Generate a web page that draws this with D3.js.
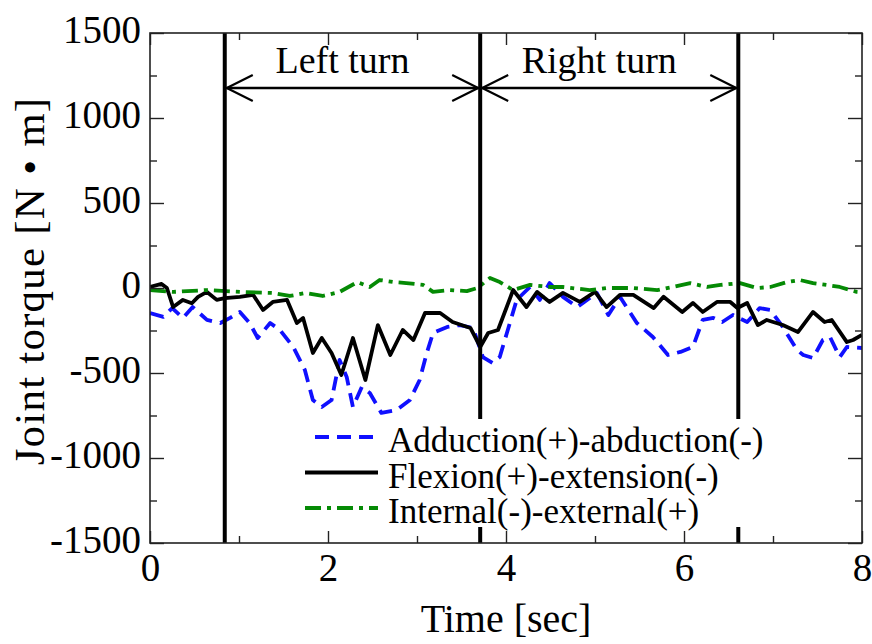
<!DOCTYPE html>
<html>
<head>
<meta charset="utf-8">
<script src="https://cdn.jsdelivr.net/npm/d3@7"></script>
<style>
  html, body { margin: 0; padding: 0; background: #fff; }
  svg { display: block; }
  text { font-family: "Liberation Serif", "Times New Roman", serif; fill: #000; }
</style>
</head>
<body>
<svg id="chart" width="872" height="644"></svg>
<script>
// Hip joint torque during a left turn followed by a right turn
const adductionTime = [0.0, 0.15, 0.25, 0.37, 0.48, 0.64, 0.79, 0.90, 1.01, 1.12, 1.21, 1.35, 1.46, 1.61, 1.74, 1.83, 1.93, 2.04, 2.13, 2.21, 2.28, 2.38, 2.47, 2.60, 2.77, 2.92, 3.03, 3.11, 3.18, 3.34, 3.48, 3.63, 3.74, 3.85, 3.93, 4.01, 4.12, 4.27, 4.38, 4.49, 4.64, 4.80, 5.02, 5.15, 5.28, 5.47, 5.65, 5.82, 5.96, 6.10, 6.21, 6.33, 6.43, 6.55, 6.71, 6.85, 6.97, 7.11, 7.27, 7.34, 7.45, 7.56, 7.64, 7.75, 7.83, 8.0];
const adductionTorque = [-147, -170, -118, -176, -112, -188, -206, -176, -141, -206, -294, -206, -247, -347, -482, -659, -700, -659, -423, -523, -700, -582, -618, -735, -718, -659, -541, -382, -265, -229, -218, -235, -406, -441, -406, -265, -70, 6, -70, 29, -52, -112, -29, -159, -52, -206, -288, -394, -376, -347, -188, -176, -200, -159, -200, -118, -129, -229, -365, -394, -412, -306, -288, -406, -347, -353];

const flexionTime = [0.0, 0.13, 0.19, 0.26, 0.37, 0.47, 0.54, 0.64, 0.75, 0.84, 1.01, 1.16, 1.27, 1.38, 1.54, 1.65, 1.72, 1.83, 1.93, 2.04, 2.15, 2.28, 2.42, 2.56, 2.70, 2.84, 2.96, 3.09, 3.26, 3.40, 3.60, 3.71, 3.80, 3.91, 4.08, 4.23, 4.35, 4.49, 4.64, 4.83, 5.00, 5.13, 5.28, 5.43, 5.66, 5.77, 5.98, 6.10, 6.21, 6.37, 6.52, 6.60, 6.71, 6.83, 6.93, 7.11, 7.28, 7.45, 7.58, 7.66, 7.83, 7.90, 8.0];
const flexionTorque = [6, 24, 0, -112, -70, -90, -52, -23, -70, -60, -52, -41, -129, -82, -70, -206, -176, -382, -294, -382, -512, -294, -541, -218, -394, -247, -306, -147, -147, -200, -235, -347, -265, -247, -12, -112, -23, -82, -29, -82, -23, -112, -41, -41, -118, -52, -141, -88, -141, -82, -82, -118, -88, -218, -188, -218, -259, -141, -200, -188, -318, -306, -276];

const rotationTime = [0.0, 0.26, 0.64, 1.01, 1.38, 1.57, 1.75, 1.94, 2.13, 2.33, 2.47, 2.58, 2.73, 2.88, 3.07, 3.18, 3.37, 3.56, 3.68, 3.82, 3.93, 4.08, 4.27, 4.49, 4.64, 4.94, 5.13, 5.43, 5.70, 5.87, 6.07, 6.26, 6.41, 6.63, 6.82, 6.97, 7.16, 7.30, 7.45, 7.60, 7.75, 7.94, 8.0];
const rotationTorque = [-12, -23, -12, -23, -29, -47, -29, -47, -23, 35, 6, 47, 35, 29, 18, -23, -12, -18, 0, 59, 35, -12, 18, 6, 6, -12, 0, 0, -12, 6, 29, 6, 18, 29, 0, 6, 35, 47, 29, 18, 6, -23, -25];

const seriesNames = ["Adduction(+)-abduction(-)", "Flexion(+)-extension(-)", "Internal(-)-external(+)"];
const phaseBounds = [0.84, 3.71, 6.61];
const phaseLabels = ["Left turn", "Right turn"];

const xMajorTicks = [0, 2, 4, 6, 8];
const xMinorTicks = [1, 3, 5, 7];
const yMajorTicks = [-1500, -1000, -500, 0, 500, 1000, 1500];
const yMinorTicks = [-1250, -750, -250, 250, 750, 1250];

const xTitle = "Time [sec]";
const yTitle = "Joint torque [N \u2022 m]";

// ---- layout ----
const plotL = 150, plotR = 862, plotT = 33, plotB = 543;
const serif = "'Liberation Serif', 'Times New Roman', serif";
const svg = d3.select("#chart");

const x = d3.scaleLinear().domain([0, 8]).range([plotL, plotR]);
const y = d3.scaleLinear().domain([-1500, 1500]).range([plotB, plotT]);

const series = [
  { name: seriesNames[0], t: adductionTime, v: adductionTorque, color: "#1010ff", dash: "14,8" },
  { name: seriesNames[1], t: flexionTime, v: flexionTorque, color: "#000000", dash: null },
  { name: seriesNames[2], t: rotationTime, v: rotationTorque, color: "#058a05", dash: "16,6,4,6" }
];

svg.append("defs").append("clipPath").attr("id", "plotClip")
  .append("rect").attr("x", plotL).attr("y", plotT).attr("width", plotR - plotL).attr("height", plotB - plotT);

// ---- data lines ----
const line = d3.line().x(d => x(d[0])).y(d => y(d[1]));
const plot = svg.append("g").attr("clip-path", "url(#plotClip)");
series.forEach(s => {
  const pts = s.t.map((t, i) => [t, s.v[i]]);
  plot.append("path")
    .datum(pts)
    .attr("d", line)
    .attr("fill", "none")
    .attr("stroke", s.color)
    .attr("stroke-width", 3.8)
    .attr("stroke-linejoin", "round")
    .attr("stroke-dasharray", s.dash);
});

// ---- phase boundaries ----
svg.append("g").selectAll("line").data(phaseBounds).join("line")
  .attr("x1", d => x(d)).attr("x2", d => x(d))
  .attr("y1", plotT).attr("y2", plotB)
  .attr("stroke", "#000").attr("stroke-width", 4);

// ---- arrows between phase boundaries ----
const arrowY = 88;
const arrows = svg.append("g");
phaseLabels.forEach((label, i) => {
  const x0 = x(phaseBounds[i]) + 2, x1 = x(phaseBounds[i + 1]) - 2;
  arrows.append("line").attr("x1", x0).attr("x2", x1).attr("y1", arrowY).attr("y2", arrowY)
    .attr("stroke", "#000").attr("stroke-width", 2.6);
  arrows.append("path")
    .attr("d", `M${x0 + 26},${arrowY - 13}L${x0},${arrowY}L${x0 + 26},${arrowY + 13}`)
    .attr("fill", "none").attr("stroke", "#000").attr("stroke-width", 2.2);
  arrows.append("path")
    .attr("d", `M${x1 - 26},${arrowY - 13}L${x1},${arrowY}L${x1 - 26},${arrowY + 13}`)
    .attr("fill", "none").attr("stroke", "#000").attr("stroke-width", 2.2);
  arrows.append("text")
    .attr("x", (x0 + x1) / 2 - 10).attr("y", 73)
    .attr("text-anchor", "middle")
    .attr("font-size", 38)
    .text(label);
});

// ---- legend ----
const legend = svg.append("g");
legend.append("rect").attr("x", 300).attr("y", 419).attr("width", 480).attr("height", 108).attr("fill", "#fff");
series.forEach((s, i) => {
  const ly = 437 + i * 35.5;
  legend.append("line")
    .attr("x1", s.dash === "14,8" ? 315 : 305).attr("x2", 378)
    .attr("y1", ly).attr("y2", ly)
    .attr("stroke", s.color).attr("stroke-width", 3.8)
    .attr("stroke-dasharray", s.dash);
  legend.append("text")
    .attr("x", 388).attr("y", ly + 15)
    .attr("font-size", 35)
    .text(s.name);
});

// ---- axes (ticks point inward on all four sides) ----
const plainFormat = d => String(d);
function styleAxis(g) {
  g.attr("font-family", null);
  g.select(".domain").remove();
  g.selectAll(".tick line").attr("stroke", "#222").attr("stroke-width", 1.4);
  g.selectAll("text").style("font-family", serif).style("fill", "#000");
}
svg.append("g").attr("transform", `translate(0,${plotB})`)
  .call(d3.axisBottom(x).tickValues(xMajorTicks).tickSize(-12).tickPadding(10).tickFormat(plainFormat))
  .call(g => g.selectAll("text").style("font-size", "39px").attr("dy", "0.71em"))
  .call(styleAxis);
svg.append("g").attr("transform", `translate(0,${plotB})`)
  .call(d3.axisBottom(x).tickValues(xMinorTicks).tickSize(-7).tickFormat(""))
  .call(styleAxis);
svg.append("g").attr("transform", `translate(0,${plotT})`)
  .call(d3.axisTop(x).tickValues(xMajorTicks).tickSize(-12).tickFormat(""))
  .call(styleAxis);
svg.append("g").attr("transform", `translate(0,${plotT})`)
  .call(d3.axisTop(x).tickValues(xMinorTicks).tickSize(-7).tickFormat(""))
  .call(styleAxis);
svg.append("g").attr("transform", `translate(${plotL},0)`)
  .call(d3.axisLeft(y).tickValues(yMajorTicks).tickSize(-14).tickPadding(9).tickFormat(plainFormat))
  .call(g => g.selectAll("text").style("font-size", "39px").attr("dy", "0.25em"))
  .call(styleAxis);
svg.append("g").attr("transform", `translate(${plotL},0)`)
  .call(d3.axisLeft(y).tickValues(yMinorTicks).tickSize(-7).tickFormat(""))
  .call(styleAxis);
svg.append("g").attr("transform", `translate(${plotR},0)`)
  .call(d3.axisRight(y).tickValues(yMajorTicks).tickSize(-14).tickFormat(""))
  .call(styleAxis);
svg.append("g").attr("transform", `translate(${plotR},0)`)
  .call(d3.axisRight(y).tickValues(yMinorTicks).tickSize(-7).tickFormat(""))
  .call(styleAxis);

// plot frame
svg.append("rect")
  .attr("x", plotL).attr("y", plotT).attr("width", plotR - plotL).attr("height", plotB - plotT)
  .attr("fill", "none").attr("stroke", "#222").attr("stroke-width", 1.6);

// ---- axis titles ----
svg.append("text")
  .attr("x", (plotL + plotR) / 2).attr("y", 632)
  .attr("text-anchor", "middle").attr("font-size", 40)
  .text(xTitle);
svg.append("text")
  .attr("transform", `translate(44,281) rotate(-90)`)
  .attr("text-anchor", "middle").attr("font-size", 43)
  .attr("letter-spacing", 1.2)
  .text(yTitle);
</script>
</body>
</html>
